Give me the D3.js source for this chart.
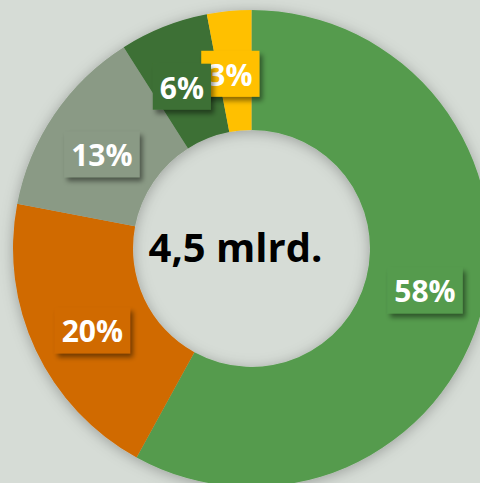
<!DOCTYPE html>
<html><head><meta charset="utf-8">
<script src="https://cdn.jsdelivr.net/npm/d3@7"></script>
<style>
html,body{margin:0;padding:0;background:#d6dcd6;}
svg{display:block;}
</style></head>
<body>
<script>
const categories = ["A","B","C","D","E"];
const values = [58, 20, 13, 6, 3];
const labels = ["58%","20%","13%","6%","3%"];
const colors = ["#559b4d","#d06a03","#8a9a85","#3d7035","#ffc000"];
const centerLabel = "4,5 mlrd.";

const W = 480, H = 483;
const cx = 251.5, cy = 248.5, R = 238.5, r = 118.5, labelR = 178;

const svg = d3.select("body").append("svg").attr("width", W).attr("height", H);
const defs = svg.append("defs");
const f1 = defs.append("filter").attr("id","ds").attr("x","-20%").attr("y","-20%").attr("width","140%").attr("height","140%");
f1.append("feDropShadow").attr("dx",0).attr("dy",2).attr("stdDeviation",7).attr("flood-color","#000").attr("flood-opacity",0.28);
const f2 = defs.append("filter").attr("id","ls").attr("x","-30%").attr("y","-30%").attr("width","160%").attr("height","170%");
f2.append("feDropShadow").attr("dx",3).attr("dy",4).attr("stdDeviation",2.5).attr("flood-color","#000").attr("flood-opacity",0.45);

svg.append("rect").attr("width",W).attr("height",H).attr("fill","#d6dcd6");

const pie = d3.pie().sort(null).value(d => d)(values);
const arc = d3.arc().innerRadius(r).outerRadius(R);
const labelArc = d3.arc().innerRadius(labelR).outerRadius(labelR);
const g = svg.append("g").attr("transform",`translate(${cx},${cy})`);
g.append("g").attr("filter","url(#ds)").selectAll("path").data(pie).join("path")
  .attr("d", arc).attr("fill",d=>colors[d.index]);

const lg = g.selectAll("g.lab").data(pie.slice().reverse()).join("g").attr("class","lab")
  .attr("transform", d => {
    const a = (d.startAngle + d.endAngle) / 2 - 0.025;
    const c = labelArc.centroid({startAngle: a, endAngle: a});
    return `translate(${c[0]},${c[1] + 3})`;
  });
lg.each(function(d){
  const i = d.index;
  const s = d3.select(this);
  const rect = s.append("rect").attr("fill",colors[i]).attr("filter","url(#ls)");
  const t = s.append("text").text(labels[i]).attr("text-anchor","middle").attr("dy","0.36em")
    .attr("font-family","'Open Sans', sans-serif").attr("font-weight","bold").attr("font-size",30)
    .attr("fill","#fff");
  const b = t.node().getBBox();
  rect.attr("x", b.x - 7).attr("y", -24).attr("width", b.width + 14).attr("height", 46);
});

svg.append("text").attr("x", cx - 16).attr("y", cy + 13.5).attr("text-anchor","middle")
  .attr("font-family","'Open Sans', sans-serif").attr("font-weight","bold").attr("font-size",40)
  .attr("fill","#000").text(centerLabel);
</script>
</body></html>
